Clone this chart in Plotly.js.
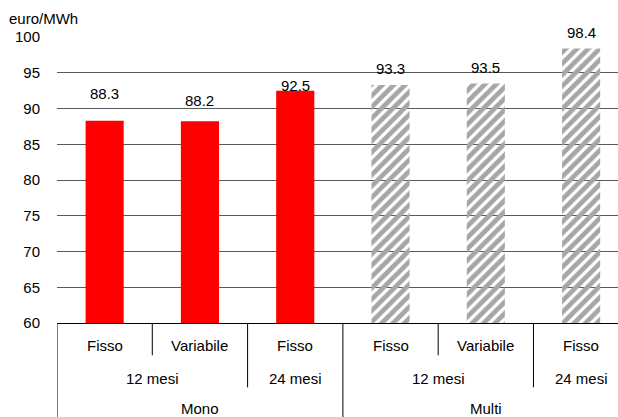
<!DOCTYPE html>
<html>
<head>
<meta charset="utf-8">
<script src="https://cdn.plot.ly/plotly-3.0.1.min.js"></script>
<style>html,body{margin:0;padding:0;background:#fff;overflow:hidden}#chart{width:618px;height:417px}</style>
</head>
<body>
<div id="chart"></div>
<script>
// Data
var groups = ['Mono','Mono','Mono','Multi','Multi','Multi'];
var durations = ['12 mesi','12 mesi','24 mesi','12 mesi','12 mesi','24 mesi'];
var types = ['Fisso','Variabile','Fisso','Fisso','Variabile','Fisso'];
var values = [88.3, 88.2, 92.5, 93.3, 93.5, 98.4];
var unitLabel = 'euro/MWh';

// Styling (not data)
var labelShift = [27, 21, 5, 16, 16, 16];
var FONT = 'Liberation Sans, Arial, sans-serif';
var FS = 15;
var idx = values.map(function(_, i){ return i; });
var isMulti = groups.map(function(g){ return g === 'Multi'; });

var trace = {
  type: 'bar',
  x: idx,
  y: values,
  width: 0.4,
  marker: {
    color: isMulti.map(function(m){ return m ? '#a6a6a6' : '#ff0000'; }),
    line: {width: 0},
    pattern: {
      shape: isMulti.map(function(m){ return m ? '/' : ''; }),
      fgcolor: '#a3a3a3',
      bgcolor: '#ffffff',
      size: 8,
      solidity: 0.6,
      fillmode: 'replace'
    }
  },
  hoverinfo: 'none'
};

var annotations = [];
var shapes = [];

// value labels
values.forEach(function(v, i){
  annotations.push({x: i, y: v, xref: 'x', yref: 'y', text: v.toFixed(1), showarrow: false,
    yanchor: 'middle', yshift: labelShift[i], font: {family: FONT, size: FS, color: '#000'}});
});

// level labels
var Y1 = -0.080, Y2 = -0.193, Y3 = -0.298;
types.forEach(function(t, i){
  annotations.push({x: i, y: Y1, xref: 'x', yref: 'paper', text: t, showarrow: false,
    yanchor: 'middle', font: {family: FONT, size: FS, color: '#000'}});
});
function spans(keyFn){
  var out = [];
  var start = 0;
  for (var i = 1; i <= values.length; i++){
    if (i === values.length || keyFn(i) !== keyFn(start)){
      out.push({s: start, e: i - 1});
      start = i;
    }
  }
  return out;
}
spans(function(i){ return groups[i] + '|' + durations[i]; }).forEach(function(sp){
  annotations.push({x: (sp.s + sp.e) / 2, y: Y2, xref: 'x', yref: 'paper', text: durations[sp.s], showarrow: false,
    yanchor: 'middle', font: {family: FONT, size: FS, color: '#000'}});
});
spans(function(i){ return groups[i]; }).forEach(function(sp){
  annotations.push({x: (sp.s + sp.e) / 2, y: Y3, xref: 'x', yref: 'paper', text: groups[sp.s], showarrow: false,
    yanchor: 'middle', font: {family: FONT, size: FS, color: '#000'}});
});

// separators
var D1 = -0.113, D2 = -0.225, D3 = -0.35;
for (var i = 0; i < values.length; i++){
  var depth;
  if (i === 0 || groups[i] !== groups[i-1]) depth = D3;
  else if (durations[i] !== durations[i-1]) depth = D2;
  else depth = D1;
  shapes.push({type: 'line', xref: 'x', yref: 'paper', x0: i - 0.5, x1: i - 0.5, y0: 0, y1: depth,
    line: {color: '#000', width: 1}});
}

// unit label
annotations.push({x: -0.089, y: 1.063, xref: 'paper', yref: 'paper', text: unitLabel, showarrow: false,
  xanchor: 'left', yanchor: 'middle', font: {family: FONT, size: FS, color: '#000'}});

var layout = {
  width: 618, height: 417,
  margin: {l: 57, r: 0, t: 37, b: 94, pad: 0},
  paper_bgcolor: '#fff', plot_bgcolor: '#fff',
  showlegend: false,
  xaxis: {
    range: [-0.5, 5.387],
    showticklabels: false, showgrid: false, zeroline: false, ticks: '',
    showline: true, linecolor: '#000', linewidth: 1, fixedrange: true
  },
  yaxis: {
    range: [60, 100], dtick: 5, tick0: 60,
    showgrid: true, gridcolor: '#5a5a5a', gridwidth: 1,
    zeroline: false, showline: false, ticks: '',
    ticklabelstandoff: 16,
    tickfont: {family: FONT, size: FS, color: '#000'}, fixedrange: true
  },
  annotations: annotations,
  shapes: shapes
};

Plotly.newPlot('chart', [trace], layout, {displayModeBar: false, staticPlot: true});
</script>
</body>
</html>
